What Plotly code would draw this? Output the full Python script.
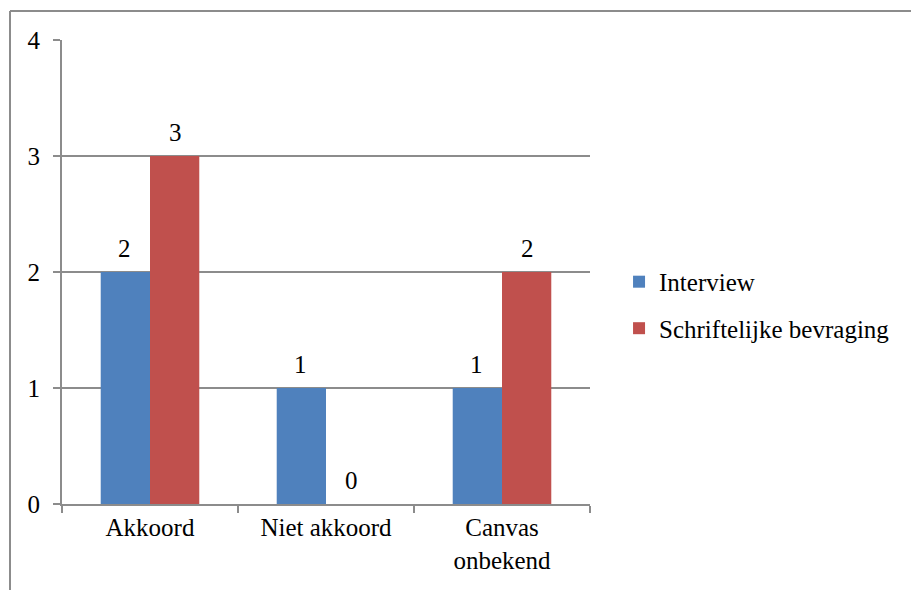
import plotly.graph_objects as go

categories = ["Akkoord", "Niet akkoord", "Canvas<br>onbekend"]
interview = [2, 1, 1]
schriftelijk = [3, 0, 2]
series_names = ["Interview", "Schriftelijke bevraging"]
y_ticks = [0, 1, 2, 3, 4]

FONT = "Times New Roman"
GRID = "#8c8c8c"
SIZE = 25

fig = go.Figure()
fig.add_trace(go.Bar(
    x=categories, y=interview, name=series_names[0], offsetgroup="a", legendgroup="a",
    marker=dict(color="#4F81BD", line=dict(width=0)),
))
fig.add_trace(go.Bar(
    x=categories, y=schriftelijk, name=series_names[1], offsetgroup="b", legendgroup="b",
    marker=dict(color="#C0504D", line=dict(width=0)),
))

# value labels above each bar
for series, dx in ((interview, -0.143), (schriftelijk, 0.143)):
    for i, v in enumerate(series):
        fig.add_annotation(
            x=i + dx, y=v, xref="x", yref="y", text=str(v), showarrow=False,
            yanchor="bottom", yshift=8, font=dict(size=SIZE, family=FONT, color="black"),
        )

fig.update_layout(
    width=911, height=590,
    margin=dict(l=62, r=321, t=40, b=86, autoexpand=False),
    paper_bgcolor="white", plot_bgcolor="white",
    barmode="group", bargap=0.44, bargroupgap=0,
    font=dict(family=FONT, size=SIZE, color="black"),
    showlegend=True,
    legend=dict(
        x=1.055, y=0.429, xanchor="left", yanchor="middle",
        font=dict(size=SIZE, family=FONT), tracegroupgap=11,
        itemwidth=30, bgcolor="rgba(0,0,0,0)",
    ),
)
fig.update_xaxes(
    showline=True, linecolor=GRID, linewidth=2,
    ticks="outside", tickson="boundaries", ticklen=7, tickcolor=GRID, tickwidth=2,
    showgrid=False, tickfont=dict(size=SIZE, family=FONT),
)
fig.update_yaxes(
    range=[0, 4], tickvals=y_ticks,
    showline=True, linecolor=GRID, linewidth=2,
    ticks="outside", ticklen=7, tickcolor=GRID, tickwidth=2,
    showgrid=True, gridcolor=GRID, gridwidth=2, zeroline=False,
    tickfont=dict(size=SIZE, family=FONT), ticklabelstandoff=8,
)

# outer chart frame (top and left edges visible)
fig.add_shape(type="line", xref="paper", yref="paper",
              x0=(10 - 62) / 528, x1=1.7, y0=(504 - 11) / 464, y1=(504 - 11) / 464,
              line=dict(color=GRID, width=2))
fig.add_shape(type="line", xref="paper", yref="paper",
              x0=(10 - 62) / 528, x1=(10 - 62) / 528, y0=(504 - 11) / 464, y1=-0.3,
              line=dict(color=GRID, width=2))

fig.write_html("out.html")
